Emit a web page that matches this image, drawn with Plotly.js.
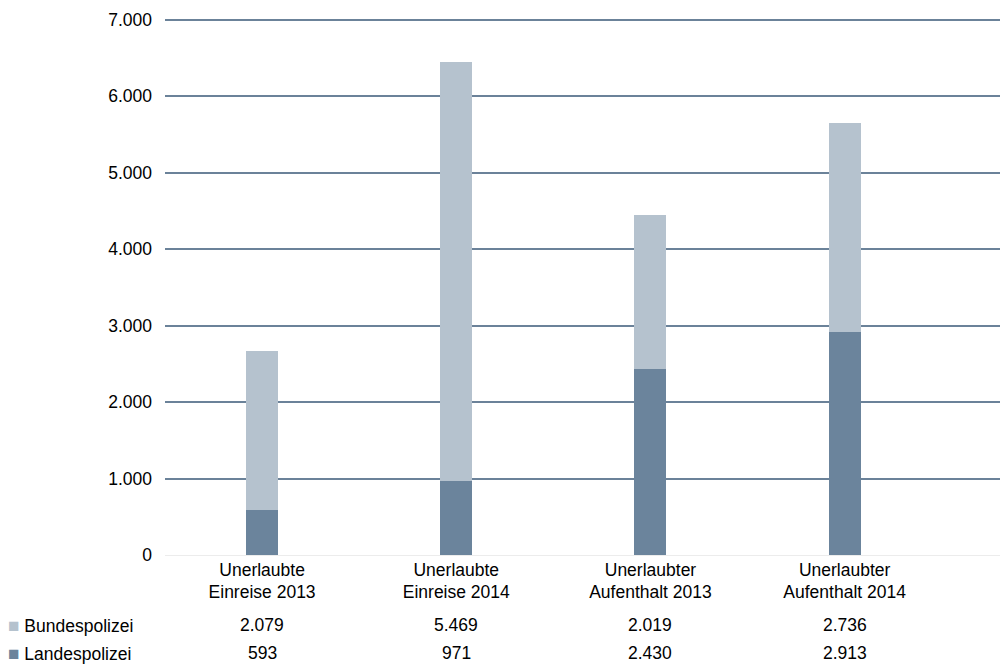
<!DOCTYPE html>
<html>
<head>
<meta charset="utf-8">
<script src="https://cdn.plot.ly/plotly-3.0.1.min.js"></script>
<style>html,body{margin:0;padding:0;background:#fff;}#chart{width:1001px;height:664px;}</style>
</head>
<body>
<div id="chart"></div>
<script>
const categories = ["Unerlaubte<br>Einreise 2013", "Unerlaubte<br>Einreise 2014", "Unerlaubter<br>Aufenthalt 2013", "Unerlaubter<br>Aufenthalt 2014"];
const seriesNames = ["Bundespolizei", "Landespolizei"];
const landespolizei = [593, 971, 2430, 2913];
const bundespolizei = [2079, 5469, 2019, 2736];
const yTicks = [0, 1000, 2000, 3000, 4000, 5000, 6000, 7000];

const darkColor = "#6b849c";
const lightColor = "#b5c2ce";
const idx = categories.map((c, i) => i);

const fmt = v => v.toLocaleString("de-DE");

const traces = [
  {type: "bar", name: seriesNames[1], x: idx, y: landespolizei, width: 0.165,
   marker: {color: darkColor}, hoverinfo: "none"},
  {type: "bar", name: seriesNames[0], x: idx, y: bundespolizei, width: 0.165,
   marker: {color: lightColor}, hoverinfo: "none"}
];

const font = {family: "Liberation Sans, Arial, sans-serif", size: 17.5, color: "#000"};
const annotations = [];
const rows = [[seriesNames[0], bundespolizei, lightColor, -0.129], [seriesNames[1], landespolizei, darkColor, -0.1805]];
rows.forEach(([name, vals, col, py]) => {
  annotations.push({xref: "paper", yref: "paper", x: -0.19, y: py, xanchor: "left", yanchor: "middle",
    text: '<span style="color:' + col + ';font-size:19px">■</span> ' + name, showarrow: false, font: font});
  vals.forEach((v, i) => {
    annotations.push({xref: "x", yref: "paper", x: i, y: py, xanchor: "center", yanchor: "middle",
      text: fmt(v), showarrow: false, font: font});
  });
});

const layout = {
  width: 1001, height: 664,
  margin: {l: 165, r: 1, t: 12, b: 109},
  paper_bgcolor: "#fff", plot_bgcolor: "#fff",
  barmode: "stack",
  showlegend: false,
  separators: ",.",
  font: font,
  xaxis: {range: [-0.5, 3.8], tickvals: idx, ticktext: categories, showgrid: false,
    zeroline: false, showline: false, ticks: "", ticklabelstandoff: 2, tickfont: font, fixedrange: true},
  yaxis: {range: [0, 7100], tickvals: yTicks, ticktext: yTicks.map(fmt), showgrid: true,
    gridcolor: "#6b8299", gridwidth: 2, zeroline: true, zerolinecolor: "#ececec", zerolinewidth: 1,
    showline: false, ticks: "", ticklabelstandoff: 12, tickfont: font, fixedrange: true},
  annotations: annotations
};

Plotly.newPlot("chart", traces, layout, {displayModeBar: false, staticPlot: true});
</script>
</body>
</html>
